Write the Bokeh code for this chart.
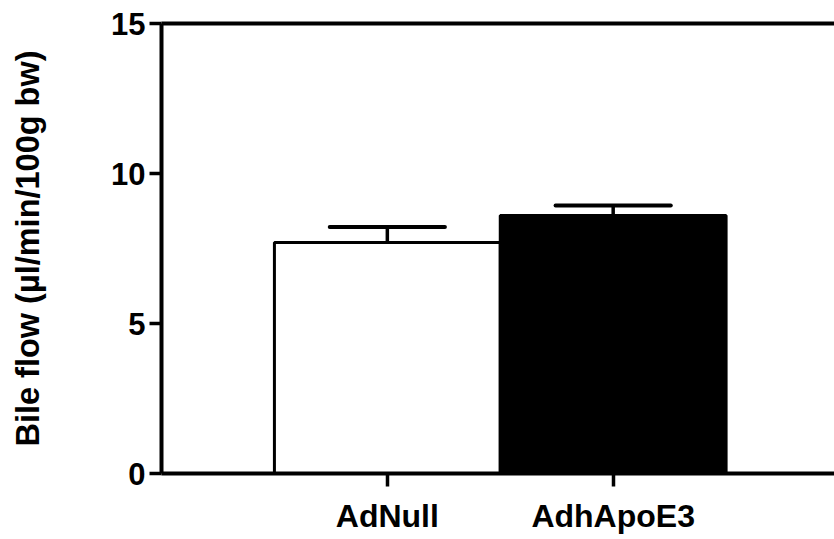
from bokeh.plotting import figure
from bokeh.models import FixedTicker, LinearAxis, Range1d
from bokeh.embed import file_html
from bokeh.resources import INLINE

categories = ["AdNull", "AdhApoE3"]
positions = [1, 2]
means = [7.7, 8.6]
sems = [0.52, 0.33]
fills = ["white", "black"]
y_ticks = [0, 5, 10, 15]

FONT = "Liberation Sans"

p = figure(width=834, height=539, output_backend="svg", toolbar_location=None,
           x_range=Range1d(0, 2.98), y_range=Range1d(0, 15),
           min_border_left=161, min_border_right=0, min_border_top=23,
           min_border_bottom=66, x_axis_location="below")
p.outline_line_color = None
p.grid.visible = False
p.background_fill_color = "white"
p.border_fill_color = "white"

p.vbar(x=positions, top=means, width=1.0, bottom=0, fill_color=fills,
       line_color="black", line_width=3)

tops = [m + s for m, s in zip(means, sems)]
p.segment(x0=positions, y0=means, x1=positions, y1=tops, line_color="black",
          line_width=3.5)
p.segment(x0=[x - 0.255 for x in positions], y0=tops,
          x1=[x + 0.255 for x in positions], y1=tops, line_color="black",
          line_width=4, line_cap="round")

# x axis
xa = p.xaxis[0]
xa.ticker = FixedTicker(ticks=positions)
xa.major_label_overrides = {pos: c for pos, c in zip(positions, categories)}
xa.minor_tick_line_color = None
xa.axis_line_width = 4
xa.major_tick_line_width = 3.5
xa.major_tick_in = 0
xa.major_tick_out = 13
xa.major_label_standoff = 11
xa.major_label_text_font = FONT
xa.major_label_text_font_style = "bold"
xa.major_label_text_font_size = "32px"
xa.major_label_text_color = "black"

# y axis
ya = p.yaxis[0]
ya.ticker = FixedTicker(ticks=y_ticks)
ya.minor_tick_line_color = None
ya.axis_line_width = 4
ya.major_tick_line_width = 3.5
ya.major_tick_in = 0
ya.major_tick_out = 12
ya.major_label_standoff = 4
ya.major_label_text_font = FONT
ya.major_label_text_font_style = "bold"
ya.major_label_text_font_size = "31px"
ya.major_label_text_color = "black"
ya.axis_label = "Bile flow (\u00b5l/min/100g bw)"
ya.axis_label_text_font = FONT
ya.axis_label_text_font_style = "bold"
ya.axis_label_text_font_size = "32.5px"
ya.axis_label_text_color = "black"
ya.axis_label_standoff = 62

# top frame line
top = LinearAxis(ticker=FixedTicker(ticks=[]), axis_line_width=4,
                 major_tick_line_color=None, minor_tick_line_color=None,
                 major_label_text_font_size="0px")
p.add_layout(top, "above")

open("out.html", "w").write(file_html(p, INLINE))
